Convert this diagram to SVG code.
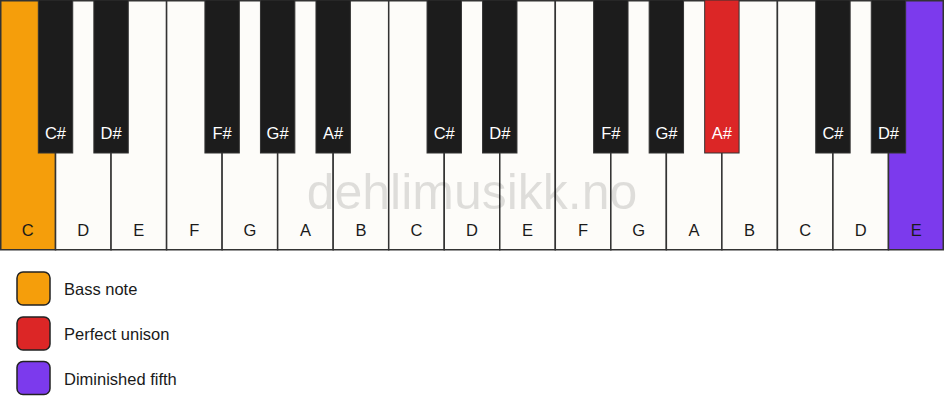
<svg xmlns="http://www.w3.org/2000/svg" width="944" height="417" viewBox="0 0 944 417">
<style>
.w{fill:#FDFCF9;stroke:#333;stroke-width:1.5}
.b{fill:#1C1C1C;stroke:#333;stroke-width:1}
.t{font-family:"Liberation Sans",Arial,sans-serif;font-size:16.5px;text-anchor:middle}
.wl{fill:#1a1a1a}
.bl{fill:#FFFFFF}
.leg{stroke:#222;stroke-width:1.5}
.lt{font-family:"Liberation Sans",Arial,sans-serif;font-size:16.5px;fill:#1a1a1a}
</style>
<rect width="944" height="417" fill="#FFFFFF"/>
<g id="white-keys">
<rect class="w" x="0.75" y="0.75" width="54.78" height="249" style="fill:#F59E0B"/>
<rect class="w" x="55.53" y="0.75" width="55.53" height="249"/>
<rect class="w" x="111.06" y="0.75" width="55.53" height="249"/>
<rect class="w" x="166.59" y="0.75" width="55.53" height="249"/>
<rect class="w" x="222.12" y="0.75" width="55.53" height="249"/>
<rect class="w" x="277.65" y="0.75" width="55.53" height="249"/>
<rect class="w" x="333.18" y="0.75" width="55.53" height="249"/>
<rect class="w" x="388.71" y="0.75" width="55.53" height="249"/>
<rect class="w" x="444.24" y="0.75" width="55.53" height="249"/>
<rect class="w" x="499.76" y="0.75" width="55.53" height="249"/>
<rect class="w" x="555.29" y="0.75" width="55.53" height="249"/>
<rect class="w" x="610.82" y="0.75" width="55.53" height="249"/>
<rect class="w" x="666.35" y="0.75" width="55.53" height="249"/>
<rect class="w" x="721.88" y="0.75" width="55.53" height="249"/>
<rect class="w" x="777.41" y="0.75" width="55.53" height="249"/>
<rect class="w" x="832.94" y="0.75" width="55.53" height="249"/>
<rect class="w" x="888.47" y="0.75" width="54.78" height="249" style="fill:#7C3AED"/>
</g>
<text x="472" y="209" font-family="'Liberation Sans',Arial,sans-serif" font-size="50" text-anchor="middle" fill="#000" fill-opacity="0.12">dehlimusikk.no</text>
<g id="white-labels" class="t wl">
<text x="27.8" y="236">C</text>
<text x="83.3" y="236">D</text>
<text x="138.8" y="236">E</text>
<text x="194.4" y="236">F</text>
<text x="249.9" y="236">G</text>
<text x="305.4" y="236">A</text>
<text x="360.9" y="236">B</text>
<text x="416.5" y="236">C</text>
<text x="472" y="236">D</text>
<text x="527.5" y="236">E</text>
<text x="583.1" y="236">F</text>
<text x="638.6" y="236">G</text>
<text x="694.1" y="236">A</text>
<text x="749.6" y="236">B</text>
<text x="805.2" y="236">C</text>
<text x="860.7" y="236">D</text>
<text x="916.2" y="236">E</text>
</g>
<g id="black-keys">
<rect class="b" x="38.33" y="0" width="34.4" height="153"/>
<rect class="b" x="93.86" y="0" width="34.4" height="153"/>
<rect class="b" x="204.92" y="0" width="34.4" height="153"/>
<rect class="b" x="260.45" y="0" width="34.4" height="153"/>
<rect class="b" x="315.98" y="0" width="34.4" height="153"/>
<rect class="b" x="427.04" y="0" width="34.4" height="153"/>
<rect class="b" x="482.56" y="0" width="34.4" height="153"/>
<rect class="b" x="593.62" y="0" width="34.4" height="153"/>
<rect class="b" x="649.15" y="0" width="34.4" height="153"/>
<rect class="b" x="704.68" y="0" width="34.4" height="153" style="fill:#DC2626"/>
<rect class="b" x="815.74" y="0" width="34.4" height="153"/>
<rect class="b" x="871.27" y="0" width="34.4" height="153"/>
</g>
<g id="black-labels" class="t bl">
<text x="55.5" y="139">C#</text>
<text x="111.1" y="139">D#</text>
<text x="222.1" y="139">F#</text>
<text x="277.6" y="139">G#</text>
<text x="333.2" y="139">A#</text>
<text x="444.2" y="139">C#</text>
<text x="499.8" y="139">D#</text>
<text x="610.8" y="139">F#</text>
<text x="666.4" y="139">G#</text>
<text x="721.9" y="139">A#</text>
<text x="833" y="139">C#</text>
<text x="888.5" y="139">D#</text>
</g>
<g id="legend-bass">
<rect class="leg" x="17" y="272" width="33" height="33" rx="6" fill="#F59E0B"/>
<text class="lt" x="64" y="295">Bass note</text>
</g>
<g id="legend-unison">
<rect class="leg" x="17" y="317" width="33" height="33" rx="6" fill="#DC2626"/>
<text class="lt" x="64" y="340">Perfect unison</text>
</g>
<g id="legend-fifth">
<rect class="leg" x="17" y="361.5" width="33" height="33" rx="6" fill="#7C3AED"/>
<text class="lt" x="64" y="384.5">Diminished fifth</text>
</g>
</svg>
